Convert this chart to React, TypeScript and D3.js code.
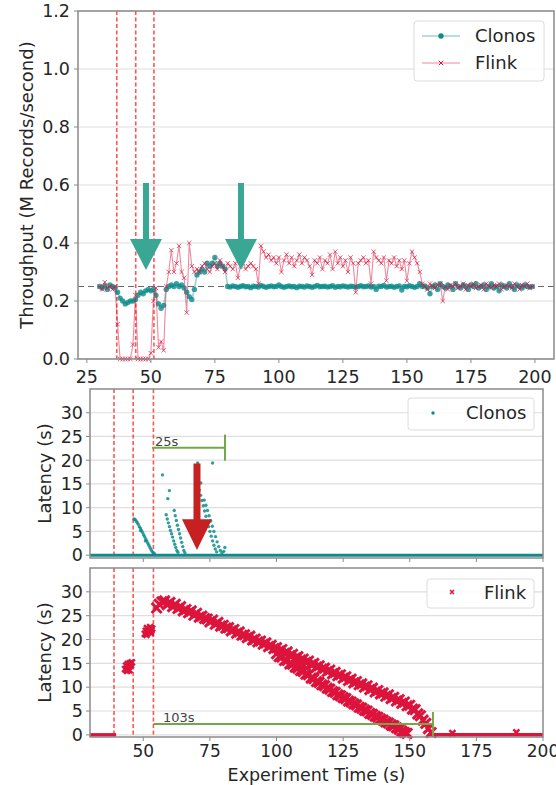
import React from 'react';
import * as d3 from 'd3';

// seconds 30..199, one throughput sample per second
const seconds = d3.range(30, 200);

const clonosThroughput = [
  0.25, 0.245, 0.252, 0.24, 0.255, 0.25, 0.245, 0.23, 0.21, 0.2,
  0.19, 0.195, 0.2, 0.2, 0.205, 0.22, 0.23, 0.225, 0.235, 0.24,
  0.235, 0.24, 0.22, 0.19, 0.175, 0.185, 0.24, 0.25, 0.255, 0.25,
  0.26, 0.25, 0.255, 0.245, 0.23, 0.215, 0.205, 0.24, 0.29, 0.3,
  0.31, 0.3, 0.33, 0.32, 0.33, 0.35, 0.32, 0.33, 0.32, 0.31,
  0.25, 0.248, 0.252, 0.25, 0.247, 0.25, 0.253, 0.249, 0.25, 0.246,
  0.251, 0.25, 0.248, 0.254, 0.25, 0.247, 0.25, 0.252, 0.249, 0.25,
  0.255, 0.25, 0.247, 0.25, 0.252, 0.249, 0.25, 0.246, 0.251, 0.25,
  0.248, 0.252, 0.25, 0.247, 0.25, 0.254, 0.249, 0.25, 0.251, 0.248,
  0.25, 0.253, 0.247, 0.25, 0.249, 0.252, 0.25, 0.248, 0.251, 0.25,
  0.247, 0.25, 0.253, 0.249, 0.25, 0.252, 0.248, 0.25, 0.24, 0.251,
  0.25, 0.254, 0.248, 0.25, 0.251, 0.247, 0.25, 0.252, 0.238, 0.25,
  0.249, 0.253, 0.25, 0.247, 0.25, 0.26, 0.25, 0.252, 0.245, 0.225,
  0.25, 0.255, 0.24, 0.26, 0.25, 0.245, 0.255, 0.25, 0.24, 0.26,
  0.25, 0.245, 0.255, 0.25, 0.24, 0.255, 0.25, 0.26, 0.245, 0.25,
  0.255, 0.24, 0.25, 0.26, 0.245, 0.25, 0.235, 0.255, 0.25, 0.245,
  0.26, 0.25, 0.24, 0.255, 0.25, 0.245, 0.255, 0.25, 0.248, 0.25,
];

const flinkThroughput = [
  0.25, 0.24, 0.265, 0.245, 0.25, 0.24, 0.25, 0.12, 0, 0,
  0, 0, 0, 0.05, 0.22, 0, 0, 0, 0, 0,
  0.02, 0.2, 0.245, 0.04, 0.06, 0.03, 0.25, 0.3, 0.375, 0.3,
  0.33, 0.39, 0.3, 0.28, 0.16, 0.4, 0.32, 0.3, 0.31, 0.3,
  0.32, 0.33, 0.31, 0.3, 0.32, 0.33, 0.31, 0.34, 0.32, 0.3,
  0.33, 0.32, 0.31, 0.33, 0.28, 0.32, 0.33, 0.31, 0.32, 0.33,
  0.32, 0.31, 0.26, 0.39, 0.37, 0.35, 0.36, 0.34, 0.35, 0.33,
  0.35, 0.3, 0.34, 0.36, 0.33, 0.35, 0.32, 0.34, 0.36, 0.33,
  0.35, 0.34, 0.32, 0.29, 0.34, 0.33, 0.35, 0.31, 0.34, 0.33,
  0.36, 0.31, 0.37, 0.33, 0.35, 0.32, 0.34, 0.3, 0.35, 0.33,
  0.23, 0.33, 0.34, 0.35, 0.33, 0.34, 0.26, 0.37, 0.35, 0.34,
  0.33, 0.35, 0.27, 0.34, 0.33, 0.35, 0.32, 0.34, 0.31, 0.34,
  0.27, 0.33, 0.37, 0.35, 0.33, 0.3, 0.26, 0.25, 0.24, 0.26,
  0.25, 0.245, 0.255, 0.26, 0.2, 0.25, 0.24, 0.255, 0.25, 0.26,
  0.245, 0.25, 0.26, 0.24, 0.255, 0.25, 0.26, 0.245, 0.25, 0.255,
  0.24, 0.26, 0.25, 0.245, 0.255, 0.25, 0.26, 0.24, 0.25, 0.255,
  0.25, 0.245, 0.26, 0.25, 0.24, 0.255, 0.25, 0.26, 0.245, 0.25,
];

const throughputFailures = [36.7, 44.1, 51.2];
const latencyFailures = [39.0, 46.2, 53.8];
const expectedThroughput = 0.25;

const throughputTicks = [0, 0.2, 0.4, 0.6, 0.8, 1.0, 1.2];
const topTimeTicks = [25, 50, 75, 100, 125, 150, 175, 200];
const latencyTicks = [0, 5, 10, 15, 20, 25, 30];
const timeTicks = [50, 75, 100, 125, 150, 175, 200];

// Clonos latency: idle at 0 the whole run, plus recovery spikes
const clonosIdle: [number, number][] = [[30, 200]];
const clonosLatency: [number, number][] = [
  [46.5, 7.6], [46.9, 7.5], [47.3, 7.2], [47.7, 6.9], [48.1, 6.5], [48.5, 6.0], [48.9, 5.7],
  [49.3, 5.2], [49.7, 4.8], [50.1, 4.3], [50.5, 3.9], [50.9, 3.4], [51.3, 3.0], [51.7, 2.5],
  [52.1, 2.1], [52.5, 1.6], [52.9, 1.2], [53.3, 0.8], [53.7, 0.5], [54.2, 0.3], [49.0, 5.2], [50.8, 3.0],
  [57.2, 16.9], [59.8, 13.6], [70.4, 19.4], [76.0, 19.4], [71.6, 15.2], [59.2, 11.9],
  [58.6, 8.5], [59.0, 7.6], [59.4, 6.8], [59.8, 6.0], [60.2, 5.2], [60.6, 4.5], [61.0, 3.8],
  [61.4, 3.0], [61.8, 2.3], [62.2, 1.6], [62.6, 1.0], [63.0, 0.6],
  [61.6, 9.4], [62.0, 8.3], [62.4, 7.3], [62.8, 6.3], [63.2, 5.4], [63.6, 4.5], [64.0, 3.6],
  [64.4, 2.7], [64.8, 1.8], [65.2, 1.0], [65.6, 0.5],
  [71.0, 13.7], [71.5, 12.6], [72.0, 11.5], [72.5, 10.4], [73.0, 9.3], [73.5, 8.2], [74.0, 7.1],
  [74.5, 6.0], [75.0, 5.0], [75.5, 4.0], [76.0, 3.0], [76.5, 2.1], [77.0, 1.3], [77.5, 0.7],
  [72.9, 11.6], [73.5, 10.5], [74.1, 9.4], [74.7, 8.3], [75.3, 7.2], [75.9, 6.1], [76.5, 5.0],
  [77.1, 3.9], [77.7, 2.8], [78.3, 1.8], [78.9, 1.0], [79.5, 0.5], [80.2, 0.8], [80.6, 1.6],
];

// Flink latency
const flinkIdle: [number, number][] = [[30, 39.8], [157, 200]];
const flinkLatency: [number, number][] = [
  [43.2, 13.8], [43.6, 14.5], [44.0, 14.0], [44.3, 14.9], [44.6, 14.3], [45.0, 15.0],
  [45.3, 14.6], [45.7, 15.2], [44.8, 13.6], [43.9, 13.4],
  [50.6, 21.2], [51.0, 21.8], [51.4, 22.4], [51.8, 21.5], [52.2, 22.0], [52.6, 22.6],
  [53.0, 21.9], [53.3, 22.3], [51.2, 21.0], [52.8, 21.4],
  [166, 0.35], [190, 0.5],
];
const flinkUpperStart = 55;
const flinkUpper = [
  26.6, 27.4, 27.9, 28.1, 27.3, 27.8, 26.9, 27.4, 26.5, 26.9,
  26.0, 26.3, 25.6, 26.0, 25.1, 25.5, 24.7, 24.9, 24.4, 24.3,
  23.7, 24.1, 23.2, 23.6, 22.8, 23.0, 22.4, 22.5, 21.8, 22.1,
  21.3, 21.6, 20.9, 21.0, 20.4, 20.7, 19.9, 20.1, 19.5, 19.7,
  19.0, 19.3, 18.5, 18.8, 18.1, 18.3, 17.6, 17.9, 17.1, 17.4,
  16.6, 16.9, 16.1, 16.4, 15.7, 15.9, 15.2, 15.5, 14.7, 15.0,
  14.2, 14.5, 13.8, 14.0, 13.3, 13.6, 12.8, 13.1, 12.4, 12.6,
  11.9, 12.2, 11.4, 11.7, 10.9, 11.2, 10.5, 10.7, 10.0, 10.3,
  9.5, 9.8, 9.0, 9.3, 8.6, 8.8, 8.1, 8.4, 7.6, 7.9,
  7.1, 7.4, 6.6, 6.9, 6.1, 6.2, 5.4, 5.3, 4.4, 4.0,
  3.1, 2.4, 1.3, 0.5,
];
const flinkLowerStart = 100;
const flinkLower = [
  17.0, 16.4, 16.3, 15.6, 15.6, 14.9, 14.8, 14.2, 14.0, 13.5,
  13.3, 12.7, 12.6, 11.9, 11.8, 11.2, 11.0, 10.5, 10.3, 9.8,
  9.6, 9.1, 8.9, 8.4, 8.2, 7.8, 7.6, 7.1, 6.9, 6.5,
  6.3, 5.8, 5.6, 5.2, 5.0, 4.5, 4.3, 3.9, 3.7, 3.3,
  3.1, 2.7, 2.5, 2.1, 1.9, 1.5, 1.2, 0.8, 0.5, 0.3,
];

const TEAL = '#0e8c8c';
const CRIMSON = '#dc143c';
const ARROW_TEAL = '#3aa794';
const ARROW_RED = '#c62020';
const GREEN = '#72a84a';
const FONT = '"DejaVu Sans", sans-serif';
const TICK = '#262626';

const cross = (x: number, y: number, s: number) =>
  `M${x - s},${y - s}L${x + s},${y + s}M${x - s},${y + s}L${x + s},${y - s}`;

function arrow(
  xs: d3.ScaleLinear<number, number>, ys: d3.ScaleLinear<number, number>,
  x: number, tail: number, headBase: number, tip: number, headW: number, shaftW: number,
) {
  const cx = xs(x);
  const yt = ys(tail), yb = ys(headBase), yp = ys(tip);
  return `M${cx - shaftW / 2},${yt}L${cx + shaftW / 2},${yt}L${cx + shaftW / 2},${yb}` +
    `L${cx + headW / 2},${yb}L${cx},${yp}L${cx - headW / 2},${yb}L${cx - shaftW / 2},${yb}Z`;
}

function Frame({ l, r, t, b }: { l: number; r: number; t: number; b: number }) {
  return <rect x={l} y={t} width={r - l} height={b - t} fill="none" stroke="#8a8a8a" strokeWidth={1.5} />;
}

export default function App() {
  // top: throughput
  const tp = { l: 78, r: 554, t: 11, b: 359 };
  const xT = d3.scaleLinear().domain([21.55, 207.45]).range([tp.l, tp.r]);
  const yT = d3.scaleLinear().domain([0, 1.2]).range([tp.b, tp.t]);
  const clonosPts = seconds.map((s, i) => [s, clonosThroughput[i]] as [number, number]);
  const flinkPts = seconds.map((s, i) => [s, flinkThroughput[i]] as [number, number]);
  const lineT = d3.line<[number, number]>().x(d => xT(d[0])).y(d => yT(d[1]));

  // middle & bottom: latency
  const mp = { l: 90, r: 543, t: 389, b: 558 };
  const bp = { l: 90, r: 543, t: 568, b: 737 };
  const xL = d3.scaleLinear().domain([30, 200]).range([mp.l, mp.r]);
  const yM = d3.scaleLinear().domain([-0.6, 35]).range([mp.b, mp.t]);
  const yB = d3.scaleLinear().domain([-0.45, 35]).range([bp.b, bp.t]);

  const flinkBand: [number, number][] = [
    ...flinkUpper.map((v, i) => [flinkUpperStart + i, v] as [number, number]),
    ...flinkLower.map((v, i) => [flinkLowerStart + i, v] as [number, number]),
  ];

  const yGrid = (ticks: number[], ys: d3.ScaleLinear<number, number>, p: typeof tp, fmt: (v: number) => string, lx: number) =>
    ticks.map(v => (
      <g key={v}>
        <line x1={p.l} x2={p.r} y1={ys(v)} y2={ys(v)} stroke="#dedede" strokeWidth={1.2} />
        <line x1={p.l - 4} x2={p.l} y1={ys(v)} y2={ys(v)} stroke="#8a8a8a" strokeWidth={1} />
        <text x={lx} y={ys(v)} dy="0.36em" textAnchor="end" fontSize={17.5} fill={TICK}>{fmt(v)}</text>
      </g>
    ));

  const failLines = (fails: number[], xs: d3.ScaleLinear<number, number>, p: typeof tp) =>
    fails.map(f => (
      <line key={f} x1={xs(f)} x2={xs(f)} y1={p.t} y2={p.b} stroke="#ff2a2a" strokeOpacity={0.8}
        strokeWidth={1.6} strokeDasharray="4,2.5" />
    ));

  return (
    <svg width={556} height={785} style={{ position: 'absolute', left: 0, top: 0, background: '#fff' }}
      fontFamily={FONT}>
      {/* ---------- throughput ---------- */}
      {yGrid(throughputTicks, yT, tp, v => v.toFixed(1), 70)}
      {topTimeTicks.map(v => (
        <g key={v}>
          <line x1={xT(v)} x2={xT(v)} y1={tp.b} y2={tp.b + 4} stroke="#8a8a8a" />
          <text x={xT(v)} y={tp.b + 24} textAnchor="middle" fontSize={17.5} fill={TICK}>{v}</text>
        </g>
      ))}
      <line x1={tp.l} x2={tp.r} y1={yT(expectedThroughput)} y2={yT(expectedThroughput)}
        stroke="#444" strokeOpacity={0.8} strokeWidth={1.2} strokeDasharray="6,4" />
      {failLines(throughputFailures, xT, tp)}
      <path d={lineT(clonosPts) ?? ''} fill="none" stroke={TEAL} strokeOpacity={0.4} strokeWidth={1.6} />
      {clonosPts.map(d => (
        <circle key={d[0]} cx={xT(d[0])} cy={yT(d[1])} r={2.7} fill={TEAL} fillOpacity={0.8} />
      ))}
      <path d={lineT(flinkPts) ?? ''} fill="none" stroke={CRIMSON} strokeOpacity={0.5} strokeWidth={1.1} />
      <path d={flinkPts.map(d => cross(xT(d[0]), yT(d[1]), 2.2)).join('')} stroke={CRIMSON}
        strokeOpacity={0.7} strokeWidth={1} fill="none" />
      <path d={arrow(xT, yT, 48.1, 0.607, 0.414, 0.307, 32, 6)} fill={ARROW_TEAL} />
      <path d={arrow(xT, yT, 85.2, 0.607, 0.414, 0.307, 32, 6)} fill={ARROW_TEAL} />
      <Frame {...tp} />
      <text transform={`translate(27,${(tp.t + tp.b) / 2}) rotate(-90)`} textAnchor="middle"
        dy="0.35em" fontSize={18} fill={TICK}>Throughput (M Records/second)</text>
      <g>
        <rect x={414} y={21} width={130} height={60} rx={3} fill="#fff" fillOpacity={0.85} stroke="#dcdcdc" />
        <line x1={422} x2={460} y1={36} y2={36} stroke={TEAL} strokeOpacity={0.4} strokeWidth={1.6} />
        <circle cx={441} cy={36} r={2.7} fill={TEAL} />
        <text x={475} y={36} dy="0.36em" fontSize={18} fill={TICK}>Clonos</text>
        <line x1={422} x2={460} y1={63} y2={63} stroke={CRIMSON} strokeOpacity={0.5} strokeWidth={1.1} />
        <path d={cross(441, 63, 2.2)} stroke={CRIMSON} strokeWidth={1} />
        <text x={475} y={63} dy="0.36em" fontSize={18} fill={TICK}>Flink</text>
      </g>

      {/* ---------- Clonos latency ---------- */}
      {yGrid(latencyTicks, yM, mp, v => String(v), 83)}
      {timeTicks.map(v => (
        <line key={v} x1={xL(v)} x2={xL(v)} y1={mp.b} y2={mp.b + 4} stroke="#8a8a8a" />
      ))}
      {failLines(latencyFailures, xL, mp)}
      {clonosIdle.map(([a, b]) => (
        <line key={a} x1={xL(a)} x2={xL(b)} y1={yM(0)} y2={yM(0)} stroke={TEAL} strokeWidth={3} />
      ))}
      {clonosLatency.map((d, i) => (
        <circle key={i} cx={xL(d[0])} cy={yM(d[1])} r={1.7} fill={TEAL} fillOpacity={0.85} />
      ))}
      <line x1={xL(53.3)} x2={xL(80.66)} y1={yM(22.6)} y2={yM(22.6)} stroke={GREEN} strokeWidth={2} />
      <line x1={xL(80.66)} x2={xL(80.66)} y1={yM(19.9)} y2={yM(25.4)} stroke={GREEN} strokeWidth={2} />
      <text x={xL(54.4)} y={yM(22.9)} fontSize={13} fill="#444">25s</text>
      <path d={arrow(xL, yM, 70.15, 19.3, 7.57, 1.07, 30, 7)} fill={ARROW_RED} />
      <Frame {...mp} />
      <text transform={`translate(45,${(mp.t + mp.b) / 2}) rotate(-90)`} textAnchor="middle"
        dy="0.35em" fontSize={18} fill={TICK}>Latency (s)</text>
      <g>
        <rect x={408} y={398} width={126} height={32} rx={3} fill="#fff" fillOpacity={0.85} stroke="#dcdcdc" />
        <circle cx={433} cy={413} r={1.7} fill={TEAL} />
        <text x={466} y={413} dy="0.36em" fontSize={18} fill={TICK}>Clonos</text>
      </g>

      {/* ---------- Flink latency ---------- */}
      {yGrid(latencyTicks, yB, bp, v => String(v), 83)}
      {timeTicks.map(v => (
        <g key={v}>
          <line x1={xL(v)} x2={xL(v)} y1={bp.b} y2={bp.b + 4} stroke="#8a8a8a" />
          <text x={xL(v)} y={bp.b + 20} textAnchor="middle" fontSize={17} fill={TICK}>{v}</text>
        </g>
      ))}
      {failLines(latencyFailures, xL, bp)}
      {flinkIdle.map(([a, b]) => (
        <line key={a} x1={xL(a)} x2={xL(b)} y1={yB(0)} y2={yB(0)} stroke={CRIMSON} strokeWidth={3.5} />
      ))}
      <path d={flinkLatency.map(d => cross(xL(d[0]), yB(d[1]), 3)).join('')} stroke={CRIMSON}
        strokeWidth={2.5} fill="none" />
      <path d={flinkBand.map(d => cross(xL(d[0]), yB(d[1]), 5)).join('')} stroke={CRIMSON}
        strokeWidth={3} fill="none" />
      <line x1={xL(53.8)} x2={xL(158.7)} y1={yB(2.3)} y2={yB(2.3)} stroke={GREEN} strokeWidth={2} />
      <line x1={xL(158.7)} x2={xL(158.7)} y1={yB(-0.45)} y2={yB(4.8)} stroke={GREEN} strokeWidth={2} />
      <text x={xL(57.4)} y={yB(2.6)} fontSize={13} fill="#444">103s</text>
      <Frame {...bp} />
      <text transform={`translate(45,${(bp.t + bp.b) / 2}) rotate(-90)`} textAnchor="middle"
        dy="0.35em" fontSize={18} fill={TICK}>Latency (s)</text>
      <text x={(bp.l + bp.r) / 2} y={781} textAnchor="middle" fontSize={17.5} fill={TICK}>Experiment Time (s)</text>
      <g>
        <rect x={427} y={579} width={107} height={29} rx={3} fill="#fff" fillOpacity={0.85} stroke="#dcdcdc" />
        <path d={cross(452, 592, 2)} stroke={CRIMSON} strokeWidth={1.5} />
        <text x={484} y={593} dy="0.36em" fontSize={18} fill={TICK}>Flink</text>
      </g>
    </svg>
  );
}
